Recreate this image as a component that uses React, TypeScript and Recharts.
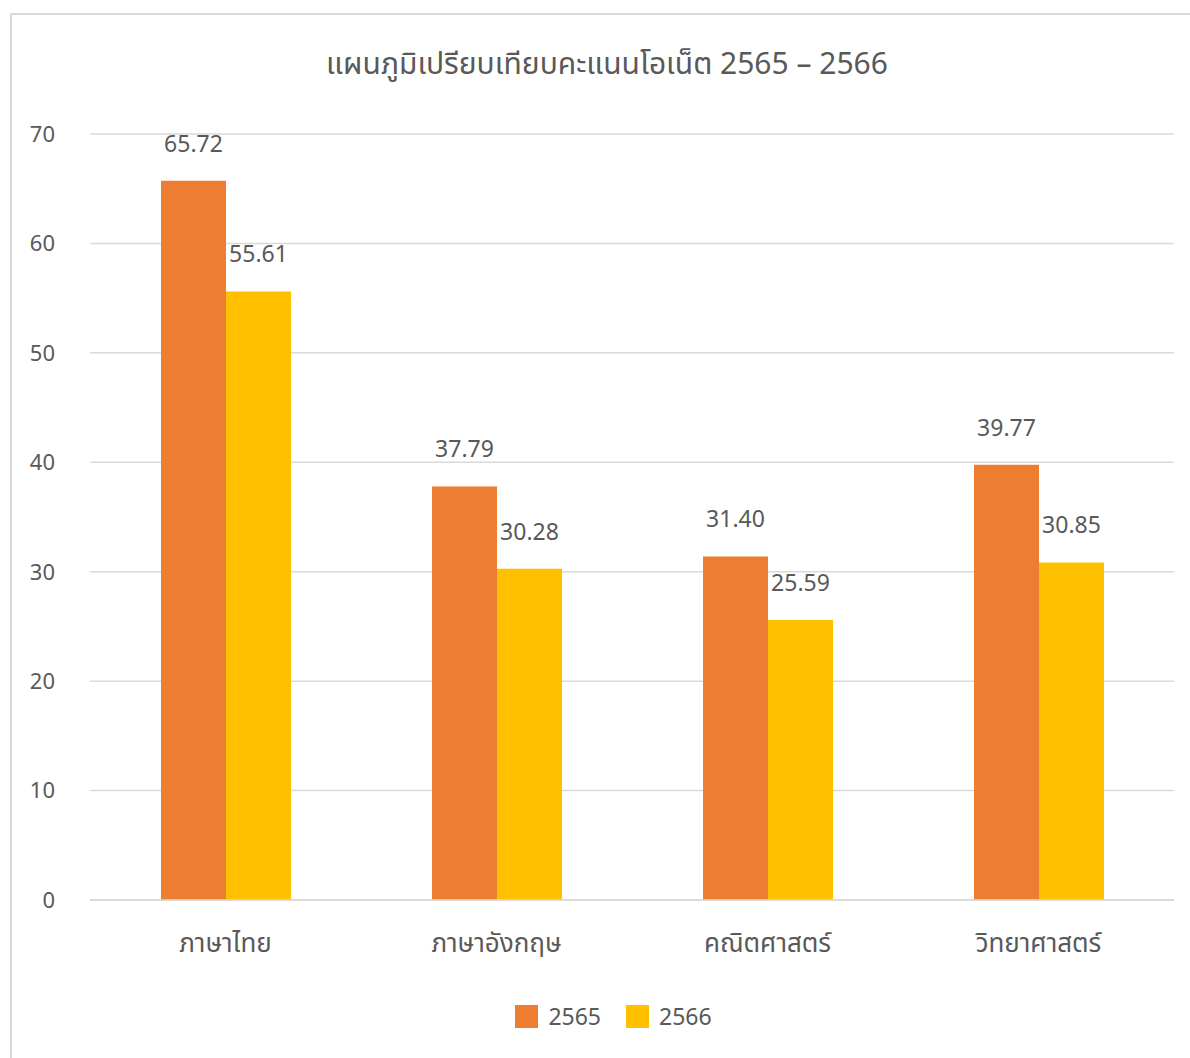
import React from "react"
import { BarChart, Bar, XAxis, YAxis, CartesianGrid, Legend, LabelList } from "recharts"

const subjects = ["ภาษาไทย", "ภาษาอังกฤษ", "คณิตศาสตร์", "วิทยาศาสตร์"]
const scores2565 = [65.72, 37.79, 31.4, 39.77]
const scores2566 = [55.61, 30.28, 25.59, 30.85]
const yTicks = [0, 10, 20, 30, 40, 50, 60, 70]

const data = subjects.map((name, i) => ({ name, y2565: scores2565[i], y2566: scores2566[i] }))

const FONT = "'Noto Sans', 'Noto Sans Thai', 'DejaVu Sans', sans-serif"
const TEXT = "#595959"

const renderLegend = (props: any) => {
  const { payload } = props
  return (
    <div style={{ display: "flex", justifyContent: "center", alignItems: "center", fontFamily: FONT }}>
      {payload.map((entry: any) => (
        <div key={entry.value} style={{ display: "flex", alignItems: "center", marginRight: 25 }}>
          <span style={{ width: 23, height: 23, background: entry.color, display: "inline-block", marginRight: 10 }} />
          <span style={{ fontSize: 23, color: TEXT }}>{entry.value}</span>
        </div>
      ))}
    </div>
  )
}

export default function App() {
  return (
    <div style={{ position: "absolute", left: 0, top: 0, width: 1190, height: 1058, overflow: "hidden", background: "#fff" }}>
      <div
        style={{
          position: "absolute",
          left: 10,
          top: 13,
          width: 1220,
          height: 1100,
          border: "2px solid #d9d9d9",
        }}
      />
      <div
        style={{
          position: "absolute",
          left: 0,
          width: 1214,
          top: 43,
          textAlign: "center",
          fontFamily: FONT,
          fontSize: 30,
          color: TEXT,
          lineHeight: "40px",
        }}
      >
        แผนภูมิเปรียบเทียบคะแนนโอเน็ต 2565 – 2566
      </div>
      <div style={{ position: "absolute", left: 0, top: 0 }}>
        <BarChart
          width={1190}
          height={1058}
          data={data}
          margin={{ top: 134, right: 16, bottom: 96, left: 0 }}
          barGap={0}
          barSize={65}
        >
          <CartesianGrid vertical={false} stroke="#d9d9d9" strokeWidth={1.5} />
          <XAxis
            dataKey="name"
            axisLine={{ stroke: "#d9d9d9", strokeWidth: 1.5 }}
            tickLine={false}
            tickSize={0}
            tickMargin={34}
            tick={{ fill: TEXT, fontSize: 26, fontFamily: FONT }}
          />
          <YAxis
            domain={[0, 70]}
            ticks={yTicks}
            width={90}
            axisLine={false}
            tickLine={false}
            tickSize={0}
            tickMargin={35}
            tick={{ fill: TEXT, fontSize: 22, fontFamily: FONT }}
          />
          <Legend
            content={renderLegend}
            wrapperStyle={{ position: "absolute", left: 31, width: 1190, top: 1000 }}
          />
          <Bar dataKey="y2565" name="2565" fill="#ED7D31" isAnimationActive={false}>
            <LabelList
              dataKey="y2565"
              position="top"
              offset={29}
              formatter={(v: any) => Number(v).toFixed(2)}
              style={{ fill: TEXT, fontSize: 23, fontFamily: FONT }}
            />
          </Bar>
          <Bar dataKey="y2566" name="2566" fill="#FFC000" isAnimationActive={false}>
            <LabelList
              dataKey="y2566"
              position="top"
              offset={29}
              formatter={(v: any) => Number(v).toFixed(2)}
              style={{ fill: TEXT, fontSize: 23, fontFamily: FONT }}
            />
          </Bar>
        </BarChart>
      </div>
    </div>
  )
}
